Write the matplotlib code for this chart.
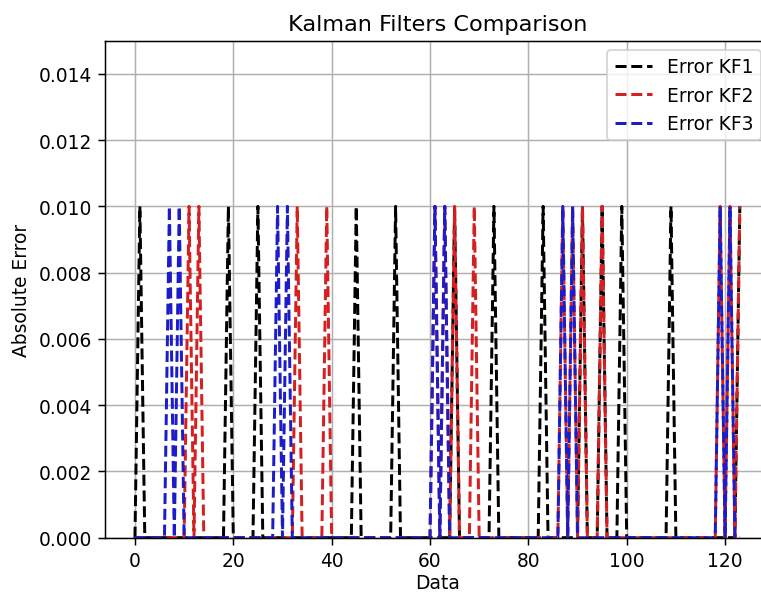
import numpy as np
import matplotlib
matplotlib.use("Agg")
import matplotlib.pyplot as plt

# sample index range of the error signals
n_points = 124
# indices where each filter's absolute error hits 0.01
kf1_spikes = [1, 19, 25, 45, 53, 65, 73, 83, 91, 95, 99, 109, 123]
kf2_spikes = [11, 13, 33, 39, 61, 63, 65, 69, 87, 89, 91, 95, 119, 121, 123]
kf3_spikes = [7, 9, 29, 31, 61, 63, 87, 89, 119, 121]
spike_value = 0.01

labels = ["Error KF1", "Error KF2", "Error KF3"]
colors = ["#000000", "#d42020", "#1c1cc8"]


def error_series(spikes):
    err = np.zeros(n_points)
    err[spikes] = spike_value
    return err


x = np.arange(n_points)
errors = [error_series(s) for s in (kf1_spikes, kf2_spikes, kf3_spikes)]

dpi = 134
fig = plt.figure(figsize=(761 / dpi, 593 / dpi), dpi=dpi)
# axes run past the right edge, like the cropped screenshot
ax = fig.add_axes([0.1376, 0.0916, 0.8743, 0.8381])

for err, lab, col in zip(errors, labels, colors):
    ax.plot(x, err, "--", color=col, label=lab, linewidth=1.6)

ax.set_ylim(0, 0.015)
ax.set_title("Kalman Filters Comparison")
ax.set_xlabel("Data", labelpad=1.5)
ax.set_ylabel("Absolute Error")
ax.grid(True)
ax.legend(loc="upper right")

fig.savefig("out.png", dpi=dpi)
